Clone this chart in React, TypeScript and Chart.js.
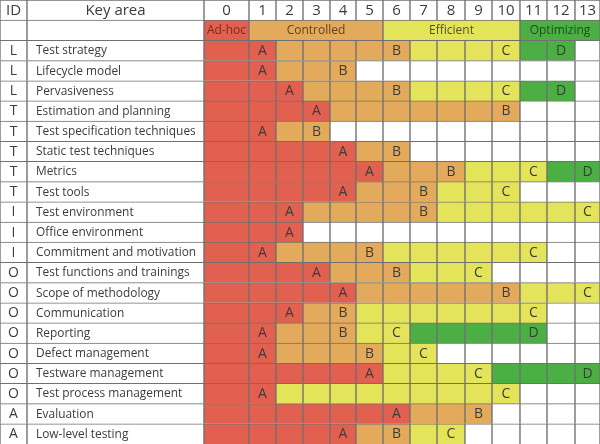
import React, { useEffect, useRef } from "react";
import { Chart, registerables } from "chart.js";

Chart.register(...registerables);

// ---------- data ----------
const ids = ["L", "L", "L", "T", "T", "T", "T", "T", "I", "I", "I", "O", "O", "O", "O", "O", "O", "O", "A", "A"];
const keyAreas = [
  "Test strategy",
  "Lifecycle model",
  "Pervasiveness",
  "Estimation and planning",
  "Test specification techniques",
  "Static test techniques",
  "Metrics",
  "Test tools",
  "Test environment",
  "Office environment",
  "Commitment and motivation",
  "Test functions and trainings",
  "Scope of methodology",
  "Communication",
  "Reporting",
  "Defect management",
  "Testware management",
  "Test process management",
  "Evaluation",
  "Low-level testing",
];
const levelA = [1, 1, 2, 3, 1, 4, 5, 4, 2, 2, 1, 3, 4, 2, 1, 1, 5, 1, 6, 4];
const levelB = [6, 4, 6, 10, 3, 6, 8, 7, 7, null, 5, 6, 10, 4, 4, 5, null, null, 9, 6];
const levelC = [10, null, 10, null, null, null, 11, 10, 13, null, 11, 9, 13, 11, 6, 7, 9, 10, null, 8];
const levelD = [12, null, 12, null, null, null, 13, null, null, null, null, null, null, null, 11, null, 13, null, null, null];
const scaleLevels = ["0", "1", "2", "3", "4", "5", "6", "7", "8", "9", "10", "11", "12", "13"];
const maturityGroups = ["Ad-hoc", "Controlled", "Efficient", "Optimizing"];
const groupFrom = [0, 1, 6, 11];
const groupTo = [0, 5, 10, 13];

// ---------- layout / style ----------
const COL_ID: [number, number] = [0, 27];
const COL_KEY: [number, number] = [27, 204];
const LEVEL_EDGES = [204, 249, 276, 303, 330, 356, 383, 410, 437, 465, 492, 520, 547, 575, 600];
const RED = "#e2604f";
const ORANGE = "#e3aa5b";
const YELLOW = "#e4e45b";
const GREEN = "#4caf43";
const WHITE = "#ffffff";
const GROUP_COLORS = [RED, ORANGE, YELLOW, GREEN];
const GROUP_TEXT = ["#7c2a20", "#5e4420", "#55551c", "#1e4f1a"];
const TEXT = "#3c3c3c";
const LINE = "#707070";
const FONT = '"Open Sans", "Noto Sans", sans-serif';

type Cell = {
  x: [number, number];
  y: string;
  c: string;
  t?: string;
  s?: number;
  al?: "left" | "center";
  tc?: string;
};

function buildCells(): { rows: string[]; cells: Cell[] } {
  const rows: string[] = [];
  for (let i = 0; i < keyAreas.length + 2; i++) rows.push("r" + i);
  const cells: Cell[] = [];
  // header row 0
  cells.push({ x: COL_ID, y: "r0", c: WHITE, t: "ID", s: 15 });
  cells.push({ x: COL_KEY, y: "r0", c: WHITE, t: "Key area", s: 15 });
  scaleLevels.forEach((lv, j) => {
    cells.push({ x: [LEVEL_EDGES[j], LEVEL_EDGES[j + 1]], y: "r0", c: WHITE, t: lv, s: 15 });
  });
  // header row 1
  cells.push({ x: COL_ID, y: "r1", c: WHITE });
  cells.push({ x: COL_KEY, y: "r1", c: WHITE });
  maturityGroups.forEach((g, k) => {
    cells.push({
      x: [LEVEL_EDGES[groupFrom[k]], LEVEL_EDGES[groupTo[k] + 1]],
      y: "r1",
      c: GROUP_COLORS[k],
      t: g,
      s: 12,
      tc: GROUP_TEXT[k],
    });
  });
  // data rows
  keyAreas.forEach((name, i) => {
    const y = "r" + (i + 2);
    cells.push({ x: COL_ID, y, c: WHITE, t: ids[i], s: 14 });
    cells.push({ x: COL_KEY, y, c: WHITE, t: name, s: 11.9, al: "left" });
    const A = levelA[i], B = levelB[i], C = levelC[i], D = levelD[i];
    for (let j = 0; j < scaleLevels.length; j++) {
      let c = WHITE;
      if (j <= A) c = RED;
      else if (B != null && j <= B) c = ORANGE;
      else if (C != null && j <= C) c = YELLOW;
      else if (D != null && j <= D) c = GREEN;
      let t: string | undefined;
      if (j === A) t = "A";
      else if (j === B) t = "B";
      else if (j === C) t = "C";
      else if (j === D) t = "D";
      cells.push({ x: [LEVEL_EDGES[j], LEVEL_EDGES[j + 1]], y, c, t, s: 14 });
    }
  });
  return { rows, cells };
}

const textPlugin = {
  id: "cellText",
  afterDatasetsDraw(chart: any) {
    const ctx = chart.ctx;
    const meta = chart.getDatasetMeta(0);
    const data = chart.data.datasets[0].data as Cell[];
    ctx.save();
    ctx.textBaseline = "middle";
    meta.data.forEach((el: any, idx: number) => {
      const d = data[idx];
      if (!d.t) return;
      const p = el.getProps(["x", "base", "y"], true);
      const left = Math.min(p.x, p.base);
      const right = Math.max(p.x, p.base);
      ctx.font = `${d.s || 13}px ${FONT}`;
      ctx.fillStyle = d.tc || TEXT;
      if (d.al === "left") {
        ctx.textAlign = "left";
        ctx.fillText(d.t, left + 9, p.y + 0.5);
      } else {
        ctx.textAlign = "center";
        ctx.fillText(d.t, (left + right) / 2, p.y + 0.5);
      }
    });
    ctx.restore();
  },
};

export default function App() {
  const ref = useRef<HTMLCanvasElement | null>(null);
  useEffect(() => {
    document.body.style.margin = "0";
    const { rows, cells } = buildCells();
    const chart = new Chart(ref.current as HTMLCanvasElement, {
      type: "bar",
      data: {
        labels: rows,
        datasets: [
          {
            data: cells as any,
            backgroundColor: (ctx: any) => (ctx.raw ? ctx.raw.c : WHITE),
            borderColor: LINE,
            borderWidth: { left: 1, right: 1, top: 1, bottom: 0 } as any,
            borderSkipped: false,
            categoryPercentage: 1,
            barPercentage: 1,
            grouped: false,
          } as any,
        ],
      },
      options: {
        indexAxis: "y",
        responsive: false,
        animation: false,
        maintainAspectRatio: false,
        layout: { padding: 0 },
        scales: {
          x: { type: "linear", min: 0, max: 600, display: false },
          y: { type: "category", display: false, offset: true },
        },
        plugins: { legend: { display: false }, tooltip: { enabled: false } },
        events: [],
      },
      plugins: [textPlugin],
    });
    return () => chart.destroy();
  }, []);
  return (
    <div style={{ width: 600, height: 444 }}>
      <canvas ref={ref} width={600} height={444} style={{ display: "block" }} />
    </div>
  );
}
